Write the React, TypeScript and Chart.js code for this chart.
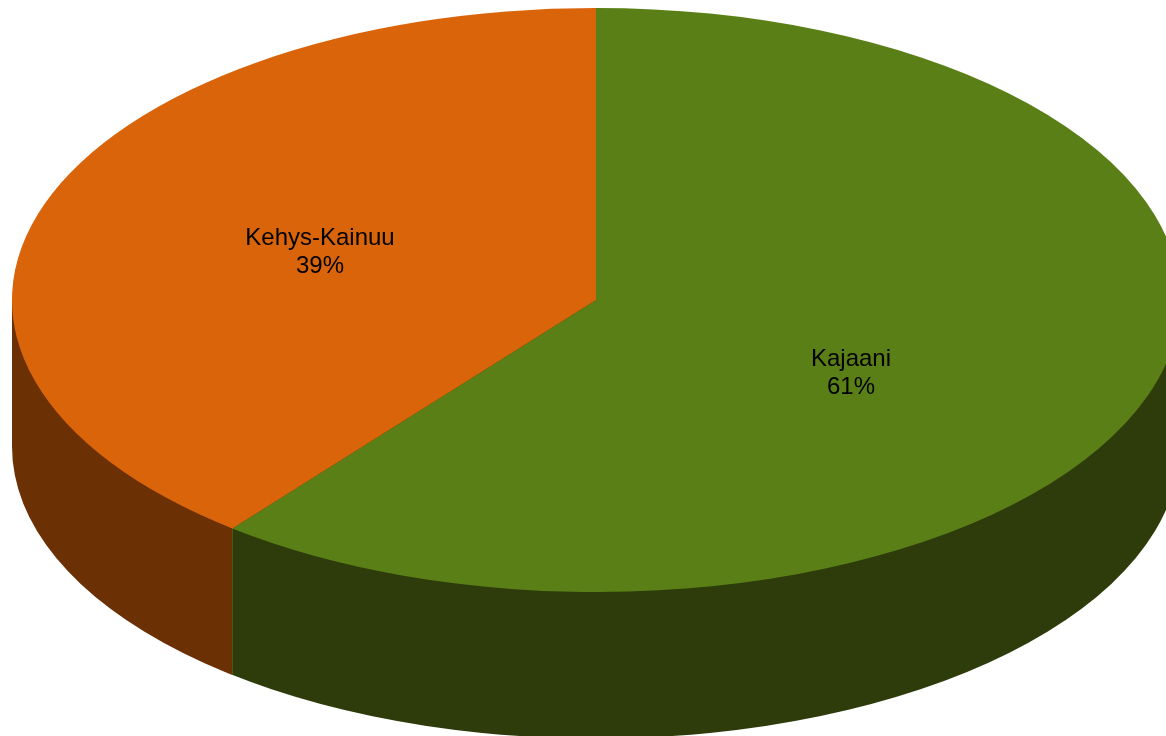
import React, { useEffect, useRef } from "react";
import { Chart, registerables } from "chart.js";

Chart.register(...registerables);

const categories = ["Kajaani", "Kehys-Kainuu"];
const shares = [60.7, 39.3];
const topColors = ["#5b7f17", "#da640a"];
const sideColors = ["#2e3c0b", "#6c3005"];
const seamColor = "#50561a";

const CX = 596;
const CY = 300;
const RX = 584;
const TILT = 0.5;
const DEPTH = 146.5;
const LABEL_POINTS = [
  { x: 851, y: 373 },
  { x: 320, y: 252 },
];

// Horizontal extent of the part of a slice that faces the viewer (lower half of the disc).
function frontExtent(arc: any) {
  const { x, outerRadius, startAngle, endAngle } = arc.getProps([
    "x",
    "outerRadius",
    "startAngle",
    "endAngle",
  ]);
  const lo = Math.max(startAngle, 0);
  const hi = Math.min(endAngle, Math.PI);
  return { left: x + outerRadius * Math.cos(hi), right: x + outerRadius * Math.cos(lo) };
}

const pie3d = {
  id: "pie3d",
  beforeDatasetsDraw(chart: any) {
    const ctx = chart.ctx;
    const meta = chart.getDatasetMeta(0);
    const extents = meta.data.map(frontExtent);
    const seamAngle = meta.data[0].getProps(["endAngle"]).endAngle;
    // each slice owns the wall below its front-facing extent
    meta.data.forEach((arc: any, i: number) => {
      const { left, right } = extents[i];
      const saved = {
        options: arc.options,
        startAngle: arc.startAngle,
        endAngle: arc.endAngle,
        circumference: arc.circumference,
      };
      ctx.save();
      ctx.beginPath();
      ctx.rect(left, 0, right - left, chart.height);
      ctx.clip();
      // the lower rim, drawn as one whole disc so that no radial seam shows
      arc.options = { ...saved.options, backgroundColor: sideColors[i], borderWidth: 0 };
      arc.startAngle = -Math.PI / 2;
      arc.endAngle = (3 * Math.PI) / 2;
      arc.circumference = 2 * Math.PI;
      ctx.save();
      ctx.translate(CX, CY + DEPTH);
      ctx.scale(1, TILT);
      ctx.translate(-CX, -CY);
      arc.draw(ctx);
      ctx.restore();
      Object.assign(arc, saved);
      ctx.fillStyle = sideColors[i];
      ctx.fillRect(left, CY, right - left, DEPTH);
      ctx.restore();
    });
    // visible edge between the two walls
    const seamX = CX + RX * Math.cos(seamAngle);
    const seamY = CY + RX * TILT * Math.sin(seamAngle);
    ctx.save();
    ctx.strokeStyle = seamColor;
    ctx.lineWidth = 1;
    ctx.beginPath();
    ctx.moveTo(Math.floor(seamX) + 0.5, seamY);
    ctx.lineTo(Math.floor(seamX) + 0.5, seamY + DEPTH);
    ctx.stroke();
    ctx.restore();
  },
  beforeDatasetDraw(chart: any) {
    const ctx = chart.ctx;
    ctx.save();
    ctx.translate(CX, CY);
    ctx.scale(1, TILT);
    ctx.translate(-CX, -CY);
  },
  afterDatasetDraw(chart: any) {
    chart.ctx.restore();
  },
  afterDatasetsDraw(chart: any) {
    const ctx = chart.ctx;
    const total = shares.reduce((a, b) => a + b, 0);
    ctx.save();
    ctx.fillStyle = "#000";
    ctx.font = "24px 'Liberation Sans'";
    ctx.textAlign = "center";
    ctx.textBaseline = "middle";
    categories.forEach((name, i) => {
      const p = LABEL_POINTS[i];
      ctx.fillText(name, p.x, p.y - 14);
      ctx.fillText(`${Math.round((shares[i] / total) * 100)}%`, p.x, p.y + 14);
    });
    ctx.restore();
  },
};

export default function App() {
  const ref = useRef<HTMLCanvasElement>(null);
  useEffect(() => {
    document.body.style.margin = "0";
    document.body.style.overflow = "hidden";
    document.body.style.background = "#fff";
    const chart = new Chart(ref.current!, {
      type: "pie",
      data: {
        labels: categories,
        datasets: [
          {
            data: shares,
            backgroundColor: topColors,
            borderWidth: 0,
            clip: false,
            radius: RX,
          } as any,
        ],
      },
      options: {
        responsive: false,
        animation: false,
        layout: { padding: { left: 2 * CX - 1166, bottom: 736 - 2 * CY } },
        plugins: { legend: { display: false }, tooltip: { enabled: false } },
      },
      plugins: [pie3d],
    });
    return () => chart.destroy();
  }, []);
  return <canvas ref={ref} width={1166} height={736} style={{ display: "block" }} />;
}
